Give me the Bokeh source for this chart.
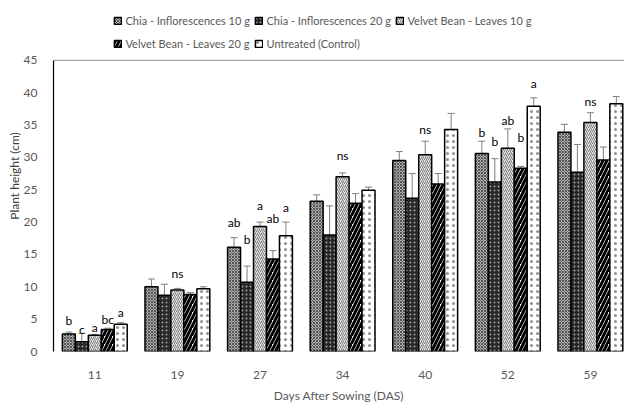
from bokeh.plotting import figure
from bokeh.models import (ColumnDataSource, Whisker, TeeHead, Legend, LegendItem,
                          Span, FixedTicker, Title)
from bokeh.core.properties import value
from bokeh.embed import file_html
from bokeh.resources import INLINE

# Days after sowing (categories)
days = ["11", "19", "27", "34", "40", "52", "59"]

series_names = [
    "Chia - Inflorescences 10 g",
    "Chia - Inflorescences 20 g",
    "Velvet Bean - Leaves 10 g",
    "Velvet Bean - Leaves 20 g",
    "Untreated (Control)",
]

# Mean plant height (cm) per treatment, one value per day
chia_10 = [2.7, 10.0, 16.1, 23.2, 29.5, 30.6, 33.9]
chia_20 = [1.5, 8.7, 10.7, 18.0, 23.7, 26.2, 27.7]
velvet_10 = [2.5, 9.5, 19.3, 27.0, 30.4, 31.4, 35.4]
velvet_20 = [3.4, 8.8, 14.3, 22.9, 25.9, 28.3, 29.6]
control = [4.2, 9.7, 17.9, 24.9, 34.3, 37.9, 38.3]

# Standard errors
chia_10_err = [0.3, 1.2, 1.5, 1.0, 1.4, 1.9, 1.2]
chia_20_err = [1.3, 1.7, 2.5, 4.5, 3.8, 3.6, 4.3]
velvet_10_err = [0.15, 0.25, 0.7, 0.6, 2.1, 3.0, 1.5]
velvet_20_err = [0.2, 0.3, 1.3, 1.5, 1.6, 0.3, 2.0]
control_err = [0.25, 0.3, 2.1, 0.5, 2.5, 1.3, 1.1]

# Mean-separation letters above each bar ("" = none)
letters = [
    ["b", "c", "a", "bc", "a"],
    ["", "", "", "", ""],
    ["ab", "b", "a", "ab", "a"],
    ["", "", "", "", ""],
    ["", "", "", "", ""],
    ["b", "b", "ab", "b", "a"],
    ["", "", "", "", ""],
]
# Heights (cm) at which the letters sit
letter_heights = [
    [4.85, 3.4, 3.75, 5.0, 6.1],
    [0, 0, 0, 0, 0],
    [19.9, 17.3, 22.6, 20.5, 22.2],
    [0, 0, 0, 0, 0],
    [0, 0, 0, 0, 0],
    [33.9, 32.4, 35.7, 33.1, 41.4],
    [0, 0, 0, 0, 0],
]
# "ns" groups and the height of their label
ns_days = ["19", "34", "40", "59"]
ns_heights = [12.1, 30.3, 34.3, 38.7]

y_ticks = [0, 5, 10, 15, 20, 25, 30, 35, 40, 45]
Y_MAX = 45

means = [chia_10, chia_20, velvet_10, velvet_20, control]
errs = [chia_10_err, chia_20_err, velvet_10_err, velvet_20_err, control_err]

styles = [
    dict(fill_color="#b0b0b0", hatch_pattern="x", hatch_color="#555555", hatch_scale=3, hatch_weight=1),
    dict(fill_color="#262626", hatch_pattern=".", hatch_color="#a0a0a0", hatch_scale=4, hatch_weight=1),
    dict(fill_color="#e8e8e8", hatch_pattern="/", hatch_color="#7a7a7a", hatch_scale=4, hatch_weight=1),
    dict(fill_color="#ffffff", hatch_pattern="/", hatch_color="#000000", hatch_scale=8, hatch_weight=3),
    dict(fill_color="#ffffff", hatch_pattern=".", hatch_color="#909090", hatch_scale=6, hatch_weight=1),
]

FONT = "Lato"
GREY = "#595959"
BAR_W = 0.157

# The frame reaches the top of the canvas so that the legend can live inside it;
# the value axis itself only runs from 0 to 45.
p = figure(width=624, height=405, output_backend="svg", toolbar_location=None,
           x_range=(0, 6.913), y_range=(0, Y_MAX * 358 / 297),
           min_border_left=53, min_border_right=0, min_border_top=0, min_border_bottom=47)
p.outline_line_color = None
p.grid.grid_line_color = None
p.background_fill_color = "white"
p.border_fill_color = "white"

centers = [i + 0.5 for i in range(len(days))]
legend_items = []
for j, (m, e, st) in enumerate(zip(means, errs, styles)):
    xs = [c + (j - 2) * BAR_W for c in centers]
    src = ColumnDataSource(dict(x=xs, top=m, upper=[a + b for a, b in zip(m, e)],
                                lower=[a - b for a, b in zip(m, e)]))
    r = p.vbar(x="x", top="top", bottom=0, width=BAR_W, source=src,
               line_color="#000000", line_width=1.5, **st)
    legend_items.append(LegendItem(label=series_names[j], renderers=[r]))
    w = Whisker(base="x", upper="upper", lower="lower", source=src,
                line_color="#7f7f7f", line_width=1,
                upper_head=TeeHead(size=7, line_color="#7f7f7f", line_width=1),
                lower_head=TeeHead(size=7, line_color="#7f7f7f", line_width=1))
    p.add_layout(w)

# significance letters
lx, ly, lt = [], [], []
for i, c in enumerate(centers):
    for j in range(5):
        if letters[i][j]:
            lx.append(c + (j - 2) * BAR_W)
            ly.append(letter_heights[i][j])
            lt.append(letters[i][j])
for d, h in zip(ns_days, ns_heights):
    lx.append(centers[days.index(d)])
    ly.append(h)
    lt.append("ns")
p.text(x=lx, y=ly, text=lt, text_align="center", text_baseline="middle",
       text_font=value(FONT), text_font_size="12px", text_color="#000000")

# plot-area top border
p.add_layout(Span(location=Y_MAX, dimension="width", line_color="#8c8c8c", line_width=1))

# axes
p.yaxis.ticker = FixedTicker(ticks=y_ticks)
p.yaxis.bounds = (0, Y_MAX)
p.yaxis.axis_line_color = "#000000"
p.yaxis.axis_line_width = 1.2
p.yaxis.major_tick_line_color = None
p.yaxis.minor_tick_line_color = None
p.yaxis.major_label_standoff = 10
p.yaxis.major_label_text_font = FONT
p.yaxis.major_label_text_font_size = "12px"
p.yaxis.major_label_text_color = GREY

p.xaxis.ticker = FixedTicker(ticks=centers)
p.xaxis.major_label_overrides = {c: d for c, d in zip(centers, days)}
p.xaxis.axis_line_color = None
p.xaxis.major_tick_line_color = None
p.xaxis.minor_tick_line_color = None
p.xaxis.major_label_standoff = 13
p.xaxis.major_label_text_font = FONT
p.xaxis.major_label_text_font_size = "12px"
p.xaxis.major_label_text_color = GREY
p.xaxis.axis_label = "Days After Sowing (DAS)"
p.xaxis.axis_label_standoff = 6
p.xaxis.axis_label_text_font = FONT
p.xaxis.axis_label_text_font_size = "12px"
p.xaxis.axis_label_text_font_style = "normal"
p.xaxis.axis_label_text_color = GREY

# y-axis title
p.add_layout(Title(text="Plant height (cm)", align="center", offset=0,
                   text_font=FONT, text_font_size="12px", text_font_style="normal",
                   text_color="#404040", standoff=-3), "left")

# legend: two rows on a three-column grid, one small legend per entry
legend_style = dict(orientation="horizontal", glyph_width=9, glyph_height=9,
                    label_standoff=4, padding=5, margin=0, spacing=0,
                    label_text_font=FONT, label_text_font_size="11px",
                    label_text_color=GREY, border_line_color=None,
                    background_fill_alpha=0)
legend_slots = [(59.5, 324), (200.5, 324), (341.5, 324), (59.5, 301), (200.5, 301)]
for item, loc in zip(legend_items, legend_slots):
    p.add_layout(Legend(items=[item], location=loc, **legend_style), "center")

open("out.html", "w").write(file_html(p, INLINE))
